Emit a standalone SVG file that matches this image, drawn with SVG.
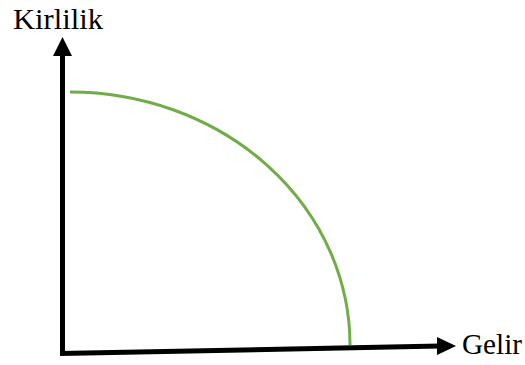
<svg xmlns="http://www.w3.org/2000/svg" width="525" height="365" viewBox="0 0 525 365">
<style>
.axis{stroke:#000;stroke-width:5;fill:none}
.head{fill:#000}
.curve{stroke:#70AD47;stroke-width:3;fill:none}
.lbl{font-family:"Liberation Serif","Times New Roman",serif;font-size:29px;fill:#000}
</style>
<rect width="525" height="365" fill="#fff"/>
<g id="connectors">
<path class="axis" d="M62.5,353.5 V54"/>
<polygon class="head" points="62.5,37 53,56 72,56"/>
<path class="axis" d="M60,353.5 L440,346"/>
<polygon class="head" points="456,346 437,337 437,355"/>
<path class="curve" d="M70,92 A280,253 0 0 1 350,345"/>
</g>
<g id="label-y"><text class="lbl" x="13" y="29" textLength="90" lengthAdjust="spacingAndGlyphs">Kirlilik</text></g>
<g id="label-x"><text class="lbl" x="462" y="354" textLength="60" lengthAdjust="spacingAndGlyphs">Gelir</text></g>
</svg>
